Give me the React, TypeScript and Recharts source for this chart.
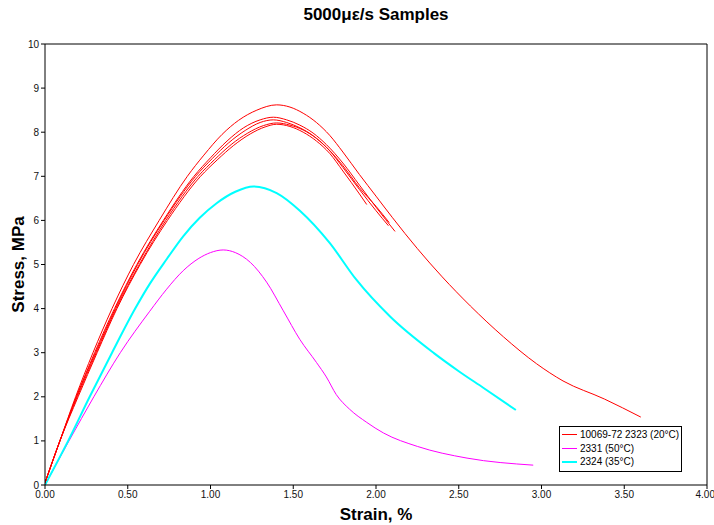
import { LineChart, Line, XAxis, YAxis, Legend, ReferenceLine } from "recharts";

// [strain %, stress MPa]
const red1: [number, number][] = [
  [0, 0.05], [0.09, 1], [0.185, 2], [0.29, 3], [0.405, 4], [0.535, 5], [0.69, 6], [0.86, 7],
  [0.96, 7.48], [1.07, 7.95], [1.17, 8.27], [1.28, 8.5], [1.4, 8.62], [1.48, 8.57], [1.56, 8.43],
  [1.64, 8.22], [1.72, 7.93], [1.8, 7.55], [1.9, 7.04], [2.0, 6.55], [2.1, 6.06], [2.25, 5.36],
  [2.4, 4.72], [2.57, 4.06], [2.77, 3.36], [2.97, 2.75], [3.13, 2.36], [3.38, 1.95], [3.6, 1.54],
];
const red2: [number, number][] = [
  [0, 0.05], [0.09, 1], [0.19, 2], [0.3, 3], [0.42, 4], [0.555, 5], [0.715, 6], [0.9, 7],
  [1.0, 7.42], [1.1, 7.8], [1.2, 8.1], [1.3, 8.28], [1.38, 8.34], [1.46, 8.28], [1.54, 8.16],
  [1.62, 7.98], [1.7, 7.72], [1.8, 7.3], [1.9, 6.8], [2.0, 6.3], [2.115, 5.75],
];
const red3: [number, number][] = [
  [0, 0.05], [0.09, 1], [0.19, 2], [0.305, 3], [0.425, 4], [0.56, 5], [0.72, 6], [0.91, 7],
  [1.01, 7.4], [1.11, 7.76], [1.21, 8.04], [1.3, 8.22], [1.38, 8.28], [1.46, 8.22], [1.54, 8.1],
  [1.62, 7.92], [1.7, 7.66], [1.8, 7.24], [1.9, 6.74], [2.0, 6.32], [2.08, 5.95],
];
const red4: [number, number][] = [
  [0, 0.05], [0.09, 1], [0.195, 2], [0.31, 3], [0.43, 4], [0.57, 5], [0.73, 6], [0.925, 7],
  [1.025, 7.38], [1.125, 7.72], [1.225, 7.98], [1.32, 8.15], [1.4, 8.21], [1.48, 8.16],
  [1.56, 8.05], [1.64, 7.86], [1.72, 7.58], [1.8, 7.2], [1.9, 6.7], [2.0, 6.22], [2.075, 5.88],
];
const red5: [number, number][] = [
  [0, 0.05], [0.09, 1], [0.2, 2], [0.315, 3], [0.435, 4], [0.575, 5], [0.74, 6], [0.94, 7],
  [1.04, 7.37], [1.14, 7.7], [1.24, 7.96], [1.33, 8.12], [1.4, 8.18], [1.48, 8.13], [1.56, 8.0],
  [1.64, 7.8], [1.72, 7.52], [1.8, 7.12], [1.9, 6.6], [1.944, 6.36],
];
const cyan35: [number, number][] = [
  [0, 0], [0.14, 1], [0.27, 2], [0.405, 3], [0.545, 4], [0.633, 4.56], [0.735, 5.12],
  [0.835, 5.64], [0.935, 6.06], [1.037, 6.39], [1.15, 6.65], [1.26, 6.77], [1.4, 6.62],
  [1.54, 6.22], [1.72, 5.49], [1.88, 4.66], [2.085, 3.82], [2.35, 2.99], [2.5, 2.58],
  [2.65, 2.2], [2.845, 1.7],
];
const magenta50: [number, number][] = [
  [0, 0], [0.145, 1], [0.295, 2], [0.455, 3], [0.633, 3.94], [0.735, 4.44], [0.835, 4.86],
  [0.93, 5.14], [1.0, 5.27], [1.077, 5.33], [1.15, 5.27], [1.24, 5.05], [1.339, 4.6],
  [1.44, 3.95], [1.54, 3.3], [1.64, 2.78], [1.7, 2.45], [1.76, 2.05], [1.84, 1.72],
  [1.944, 1.42], [2.045, 1.18], [2.25, 0.875], [2.55, 0.61], [2.95, 0.45],
];

const xTicks = [0, 0.5, 1, 1.5, 2, 2.5, 3, 3.5, 4];
const yTicks = [0, 1, 2, 3, 4, 5, 6, 7, 8, 9, 10];

const legendItems = [
  { label: "10069-72 2323 (20°C)", color: "#FF0000", width: 1 },
  { label: "2331 (50°C)", color: "#FF00FF", width: 1 },
  { label: "2324 (35°C)", color: "#00FFFF", width: 2 },
];

const toRows = (pts: [number, number][]) => pts.map(([x, y]) => ({ x, y }));

const FONT = "'Liberation Sans', Arial, sans-serif";

function YLabel({ viewBox }: any) {
  const cx = viewBox.x + 18;
  const cy = viewBox.y + viewBox.height / 2;
  return (
    <text
      x={cx}
      y={cy}
      transform={`rotate(-90, ${cx}, ${cy})`}
      textAnchor="middle"
      dominantBaseline="central"
      fontSize={17}
      fontWeight="bold"
      fill="#000"
    >
      Stress, MPa
    </text>
  );
}

function LegendBox() {
  return (
    <div
      style={{
        width: 123,
        boxSizing: "border-box",
        border: "1px solid #000",
        background: "#fff",
        padding: "1px 0 2px 2px",
        fontFamily: FONT,
        fontSize: 10,
        color: "#000",
      }}
    >
      {legendItems.map((it) => (
        <div key={it.label} style={{ display: "flex", alignItems: "center", height: 13.5 }}>
          <span
            style={{
              display: "inline-block",
              width: 15,
              height: 0,
              borderTop: `${it.width}px solid ${it.color}`,
              marginRight: 3,
            }}
          />
          <span style={{ whiteSpace: "nowrap" }}>{it.label}</span>
        </div>
      ))}
    </div>
  );
}

export default function App() {
  const tick = { fontSize: 10, fill: "#111", fontFamily: FONT };
  const reds = [red1, red2, red3, red4, red5];
  return (
    <div style={{ position: "absolute", left: 0, top: 0, width: 714, height: 525, fontFamily: FONT, background: "#fff" }}>
      <div
        style={{
          position: "absolute",
          left: 45,
          width: 662,
          top: 5,
          textAlign: "center",
          fontSize: 17,
          fontWeight: "bold",
          lineHeight: "20px",
        }}
      >
        5000με/s Samples
      </div>
      <LineChart width={714} height={525} margin={{ top: 44, right: 7, left: 0, bottom: 0 }}>
        <XAxis
          type="number"
          dataKey="x"
          domain={[0, 4]}
          ticks={xTicks}
          tickFormatter={(v: number) => v.toFixed(2)}
          tick={tick}
          tickSize={4}
          height={40}
          stroke="#000"
          allowDataOverflow
          label={{ value: "Strain, %", position: "insideBottom", offset: 5, fontSize: 17, fontWeight: "bold", fill: "#000" }}
        />
        <YAxis
          type="number"
          dataKey="y"
          domain={[0, 10]}
          ticks={yTicks}
          tick={tick}
          tickSize={4}
          width={45}
          stroke="#000"
          allowDataOverflow
          label={{ content: YLabel }}
        />
        <ReferenceLine y={10} stroke="#000" />
        <ReferenceLine x={4} stroke="#000" />
        <Line data={toRows(magenta50)} dataKey="y" type="monotone" stroke="#FF00FF" strokeWidth={1} dot={false} isAnimationActive={false} />
        <Line data={toRows(cyan35)} dataKey="y" type="monotone" stroke="#00FFFF" strokeWidth={2} dot={false} isAnimationActive={false} />
        {reds.map((r, i) => (
          <Line key={i} data={toRows(r)} dataKey="y" type="monotone" stroke="#FF0000" strokeWidth={1} dot={false} isAnimationActive={false} />
        ))}
        <Legend
          layout="vertical"
          align="center"
          verticalAlign="middle"
          content={() => <LegendBox />}
          wrapperStyle={{ left: 559, top: 426, width: 123 }}
        />
      </LineChart>
    </div>
  );
}
